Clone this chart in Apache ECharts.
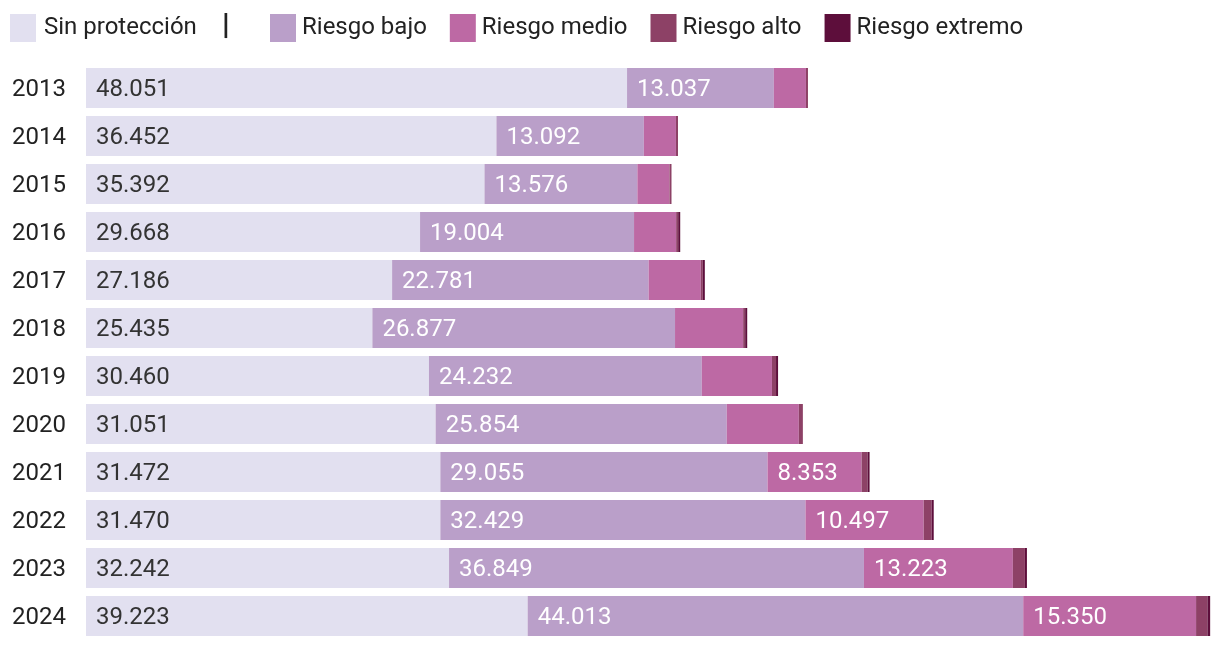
<!DOCTYPE html>
<html>
<head>
<meta charset="utf-8">
<script src="https://cdn.jsdelivr.net/npm/echarts@6/dist/echarts.min.js"></script>
<style>
html,body{margin:0;padding:0;background:#fff;}
#chart{width:1220px;height:648px;}
</style>
</head>
<body>
<div id="chart"></div>
<script>
var years = ['2013','2014','2015','2016','2017','2018','2019','2020','2021','2022','2023','2024'];
var sinProteccion = [48051,36452,35392,29668,27186,25435,30460,31051,31472,31470,32242,39223];
var riesgoBajo = [13037,13092,13576,19004,22781,26877,24232,25854,29055,32429,36849,44013];
var riesgoMedio = [2850,2850,2850,3740,4630,6050,6230,6400,8353,10497,13223,15350];
var riesgoAlto = [180,180,180,180,180,180,360,360,530,710,1070,1010];
var riesgoExtremo = [0,0,0,180,180,180,180,0,180,180,180,240];
var seriesNames = ['Sin protección','Riesgo bajo','Riesgo medio','Riesgo alto','Riesgo extremo'];
var colors = ['#e2e0f0','#ba9fc9','#bd69a4','#8d4166','#5d0e3b'];

function fmt(v){ return String(v).replace(/\B(?=(\d{3})+(?!\d))/g,'.'); }

var FONT = 'Roboto';
var chart = echarts.init(document.getElementById('chart'), null, {renderer:'canvas'});

function mkSeries(idx, data, labelColor, minLabel){
  return {
    name: seriesNames[idx], type:'bar', stack:'total', data:data,
    barWidth: 40,
    itemStyle:{color:colors[idx]},
    emphasis:{disabled:true},
    label:{
      show: minLabel !== null,
      position:'insideLeft', distance:10, offset:[0,2],
      fontFamily:FONT, fontSize:24, color:labelColor,
      formatter:function(p){ return (minLabel!==null && p.value>=minLabel) ? fmt(p.value) : ''; }
    }
  };
}

chart.setOption({
  animation:false,
  color:colors,
  legend:[
    {data:['Sin protección'], left:10, top:14, itemWidth:26, itemHeight:28, itemGap:22, padding:0,
     icon:'rect', textStyle:{fontFamily:FONT, fontSize:24, color:'#222', padding:[2,0,0,3]}, selectedMode:false},
    {data:seriesNames.slice(1), left:270, top:14, itemWidth:26, itemHeight:28, itemGap:23, padding:0,
     icon:'rect', textStyle:{fontFamily:FONT, fontSize:24, color:'#222', padding:[2,0,0,1]}, selectedMode:false}
  ],
  graphic:[{type:'text', left:222, top:11, style:{text:'|', fontFamily:FONT, fontSize:30, fontWeight:900, fill:'#222'}}],
  grid:{left:86, right:8, top:64, bottom:8, containLabel:false},
  xAxis:{type:'value', min:0, max:100000, show:false},
  yAxis:{type:'category', data:years, inverse:true,
    axisLine:{show:false}, axisTick:{show:false}, splitLine:{show:false},
    axisLabel:{align:'left', margin:74, fontFamily:FONT, fontSize:24, color:'#222',
      formatter:'{y|{value}}',
      rich:{y:{fontFamily:FONT, fontSize:24, color:'#222', padding:[3,0,0,0]}}}},
  series:[
    mkSeries(0, sinProteccion, '#333', 0),
    mkSeries(1, riesgoBajo, '#fff', 0),
    mkSeries(2, riesgoMedio, '#fff', 8000),
    mkSeries(3, riesgoAlto, '#fff', null),
    mkSeries(4, riesgoExtremo, '#fff', null)
  ]
});
</script>
</body>
</html>
